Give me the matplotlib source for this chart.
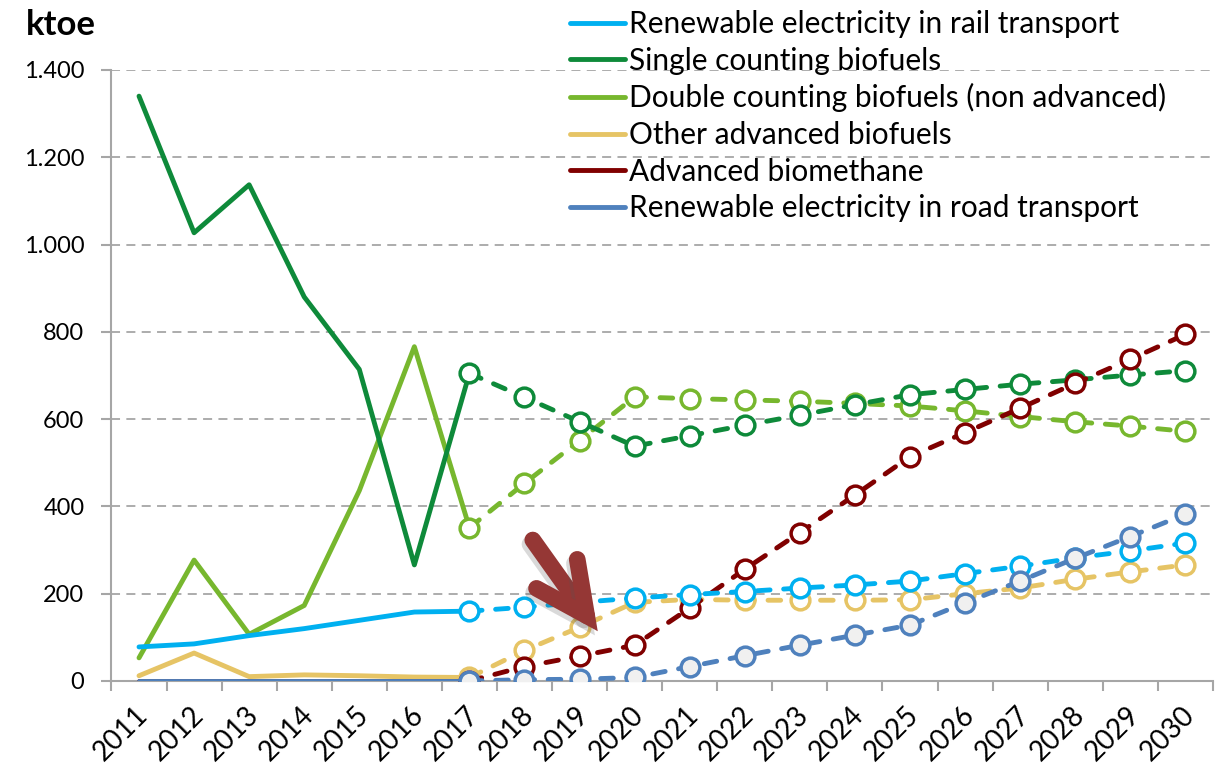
import matplotlib
matplotlib.use("Agg")
import matplotlib.pyplot as plt
import matplotlib.patheffects as pe
from matplotlib.lines import Line2D
from matplotlib.ticker import FuncFormatter, FixedLocator
from matplotlib.transforms import ScaledTranslation

plt.rcParams['font.family'] = ['Lato', 'DejaVu Sans']

# Transport renewables, ktoe (2011-2017 historical, 2017-2030 projected)
years = list(range(2011, 2031))
last_hist = 2017

rail = [78, 85, 104, 120, 139, 158, 160, 169, 180, 190, 198, 205, 213, 220,
        229, 246, 263, 282, 298, 316]
single = [1340, 1027, 1137, 880, 714, 266, 705, 650, 594, 538, 562, 586, 609,
          633, 656, 668, 680, 690, 701, 711]
double = [53, 277, 107, 173, 436, 766, 351, 453, 551, 651, 647, 644, 641, 636,
          630, 619, 606, 594, 584, 572]
other = [12, 64, 10, 14, 12, 9, 8, 70, 123, 180, 187, 185, 185, 185, 186, 200,
         213, 233, 250, 266]
biomethane = [0, 0, 0, 0, 0, 0, 0, 33, 57, 82, 167, 256, 340, 426, 514, 569,
              625, 682, 737, 794]
road = [0, 0, 0, 0, 0, 0, 0, 3, 4, 8, 33, 58, 82, 105, 128, 179, 229, 281,
        331, 382]

labels = ["Renewable electricity in rail transport",
          "Single counting biofuels",
          "Double counting biofuels (non advanced)",
          "Other advanced biofuels",
          "Advanced biomethane",
          "Renewable electricity in road transport"]
series = [rail, single, double, other, biomethane, road]
colors = ["#00B0F0", "#0E8A3A", "#77B72E", "#E6C465", "#800000", "#4F81BD"]
faces = ["white", "white", "white", "white", "white", "#F0F0F0"]
zorders = [6, 3, 2, 4, 5, 7]

fs_legend = 21.5
fs_yticks = 17
fs_xticks = 20

fig = plt.figure(figsize=(12.17, 7.68), dpi=100)
ax = fig.add_axes([0.0916, 0.1133, 0.905, 0.7956])

x = list(range(len(years)))
k = years.index(last_hist)
lw = 3.5
for vals, c, fc, z in zip(series, colors, faces, zorders):
    ax.plot(x[:k + 1], vals[:k + 1], color=c, lw=lw, solid_capstyle='round',
            zorder=z)
    ax.plot(x[k:], vals[k:], color=c, lw=lw, linestyle=(0, (2.6, 2.8)),
            dash_capstyle='round', marker='o', markersize=13.5,
            markerfacecolor=fc, markeredgecolor=c, markeredgewidth=2.5,
            zorder=z + 0.5)

# arrow pointing at 2019
ax.annotate('', xy=(8.33, 114), xytext=(7.15, 323),
            arrowprops=dict(arrowstyle='->,head_length=37,head_width=18',
                            mutation_scale=1, color='#953735', lw=12,
                            shrinkA=0, shrinkB=0, capstyle='round',
                            joinstyle='miter',
                            path_effects=[pe.SimpleLineShadow(offset=(-2, -3),
                                                              shadow_color='#555555',
                                                              alpha=0.22),
                                          pe.Normal()]),
            zorder=10)

grey = '#A6A6A6'
ax.set_xlim(-0.5, len(years) - 0.5)
ax.set_ylim(0, 1400)
ax.set_yticks(range(0, 1401, 200))
ax.yaxis.set_major_formatter(FuncFormatter(lambda v, p: f"{v:,.0f}".replace(',', '.')))
for yv in range(200, 1401, 200):
    ax.axhline(yv, color=grey, lw=1.3, linestyle=(0, (5, 3.5)), zorder=0)

ax.set_xticks(x)
ax.set_xticklabels([str(y) for y in years], rotation=45, ha='right', va='top',
                   rotation_mode='anchor')
ax.xaxis.set_minor_locator(FixedLocator([i - 0.5 for i in range(len(years) + 1)]))
ax.tick_params(axis='x', which='major', length=0, pad=15, labelsize=fs_xticks)
ax.tick_params(axis='x', which='minor', length=7, width=1.5, color=grey)
ax.tick_params(axis='y', length=7, width=1.5, color=grey, pad=12.5, labelsize=fs_yticks)
shift = ScaledTranslation(-3 / 72, 0, fig.dpi_scale_trans)
for t in ax.get_xticklabels():
    t.set_transform(t.get_transform() + shift)

for s in ['top', 'right']:
    ax.spines[s].set_visible(False)
for s in ['left', 'bottom']:
    ax.spines[s].set_color(grey)
    ax.spines[s].set_linewidth(1.5)

fig.text(0.021, 0.988, 'ktoe', fontsize=25, fontweight='bold', va='top', ha='left')

handles = [Line2D([], [], color=c, lw=lw, solid_capstyle='round') for c in colors]
fig.legend(handles, labels, loc='upper left', bbox_to_anchor=(0.468, 0.987),
           frameon=False, fontsize=fs_legend, handlelength=1.85, handletextpad=0.15,
           labelspacing=0.29, borderpad=0, borderaxespad=0)

fig.savefig('out.png', dpi=100)
